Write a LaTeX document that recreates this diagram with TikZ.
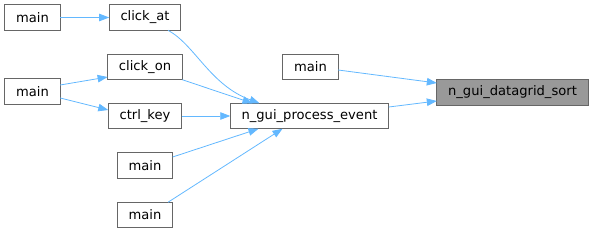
\documentclass[tikz,border=0pt]{standalone}
\usepackage{fontspec}
\setmainfont{DejaVu Sans}
\usetikzlibrary{arrows.meta}
\definecolor{edgeblue}{HTML}{63B8FF}
\definecolor{boxgray}{HTML}{666666}
\definecolor{hlfill}{HTML}{999999}
\begin{document}
\begin{tikzpicture}[x=1pt,y=-1pt,
  fn/.style={draw=boxgray, line width=0.9pt, fill=white, minimum height=25.5pt, inner xsep=11.3pt, inner ysep=0pt, outer sep=0pt, font=\fontsize{13.1}{15}\selectfont, text=black, anchor=center},
  hl/.style={fn, fill=hlfill},
  link/.style={draw=edgeblue, line width=0.8pt, -{Triangle[length=10pt,width=7.5pt]}}
]
\useasboundingbox (0,0) rectangle (593,233);
\node[fn] (main1) at (32.5,17.5) {main};
\node[fn] (clickat) at (145,17.5) {click\_at};
\node[fn] (clickon) at (145,67) {click\_on};
\node[fn] (main2) at (32.5,91.5) {main};
\node[fn] (ctrlkey) at (145,116) {ctrl\_key};
\node[fn] (main3) at (145,165.5) {main};
\node[fn] (main4) at (145,215) {main};
\node[fn] (proc) at (309.5,116) {n\_gui\_process\_event};
\node[fn] (main5) at (310.5,67) {main};
\node[hl] (sort) at (512.5,92.5) {n\_gui\_datagrid\_sort};

\draw[link] (main1) -- (clickat);
\draw[link] ([yshift=6.5pt]main2.east) -- ([yshift=-10pt]clickon.west);
\draw[link] ([yshift=-6.5pt]main2.east) -- ([yshift=6pt]ctrlkey.west);
\draw[link] ([xshift=23pt]clickat.south) .. controls (195,45) and (210,85) .. ([xshift=-50pt]proc.north);
\draw[link] (clickon.south east) -- ([xshift=-57pt]proc.north);
\draw[link] (ctrlkey) -- (proc);
\draw[link] ([yshift=8.5pt]main3.east) -- ([xshift=-51pt]proc.south);
\draw[link] ([xshift=23pt]main4.north) -- ([xshift=-27pt]proc.south);
\draw[link] ([yshift=-3pt]main5.east) -- ([yshift=9.5pt]sort.west);
\draw[link] ([yshift=9pt]proc.east) -- ([yshift=-8.5pt]sort.west);
\end{tikzpicture}
\end{document}
